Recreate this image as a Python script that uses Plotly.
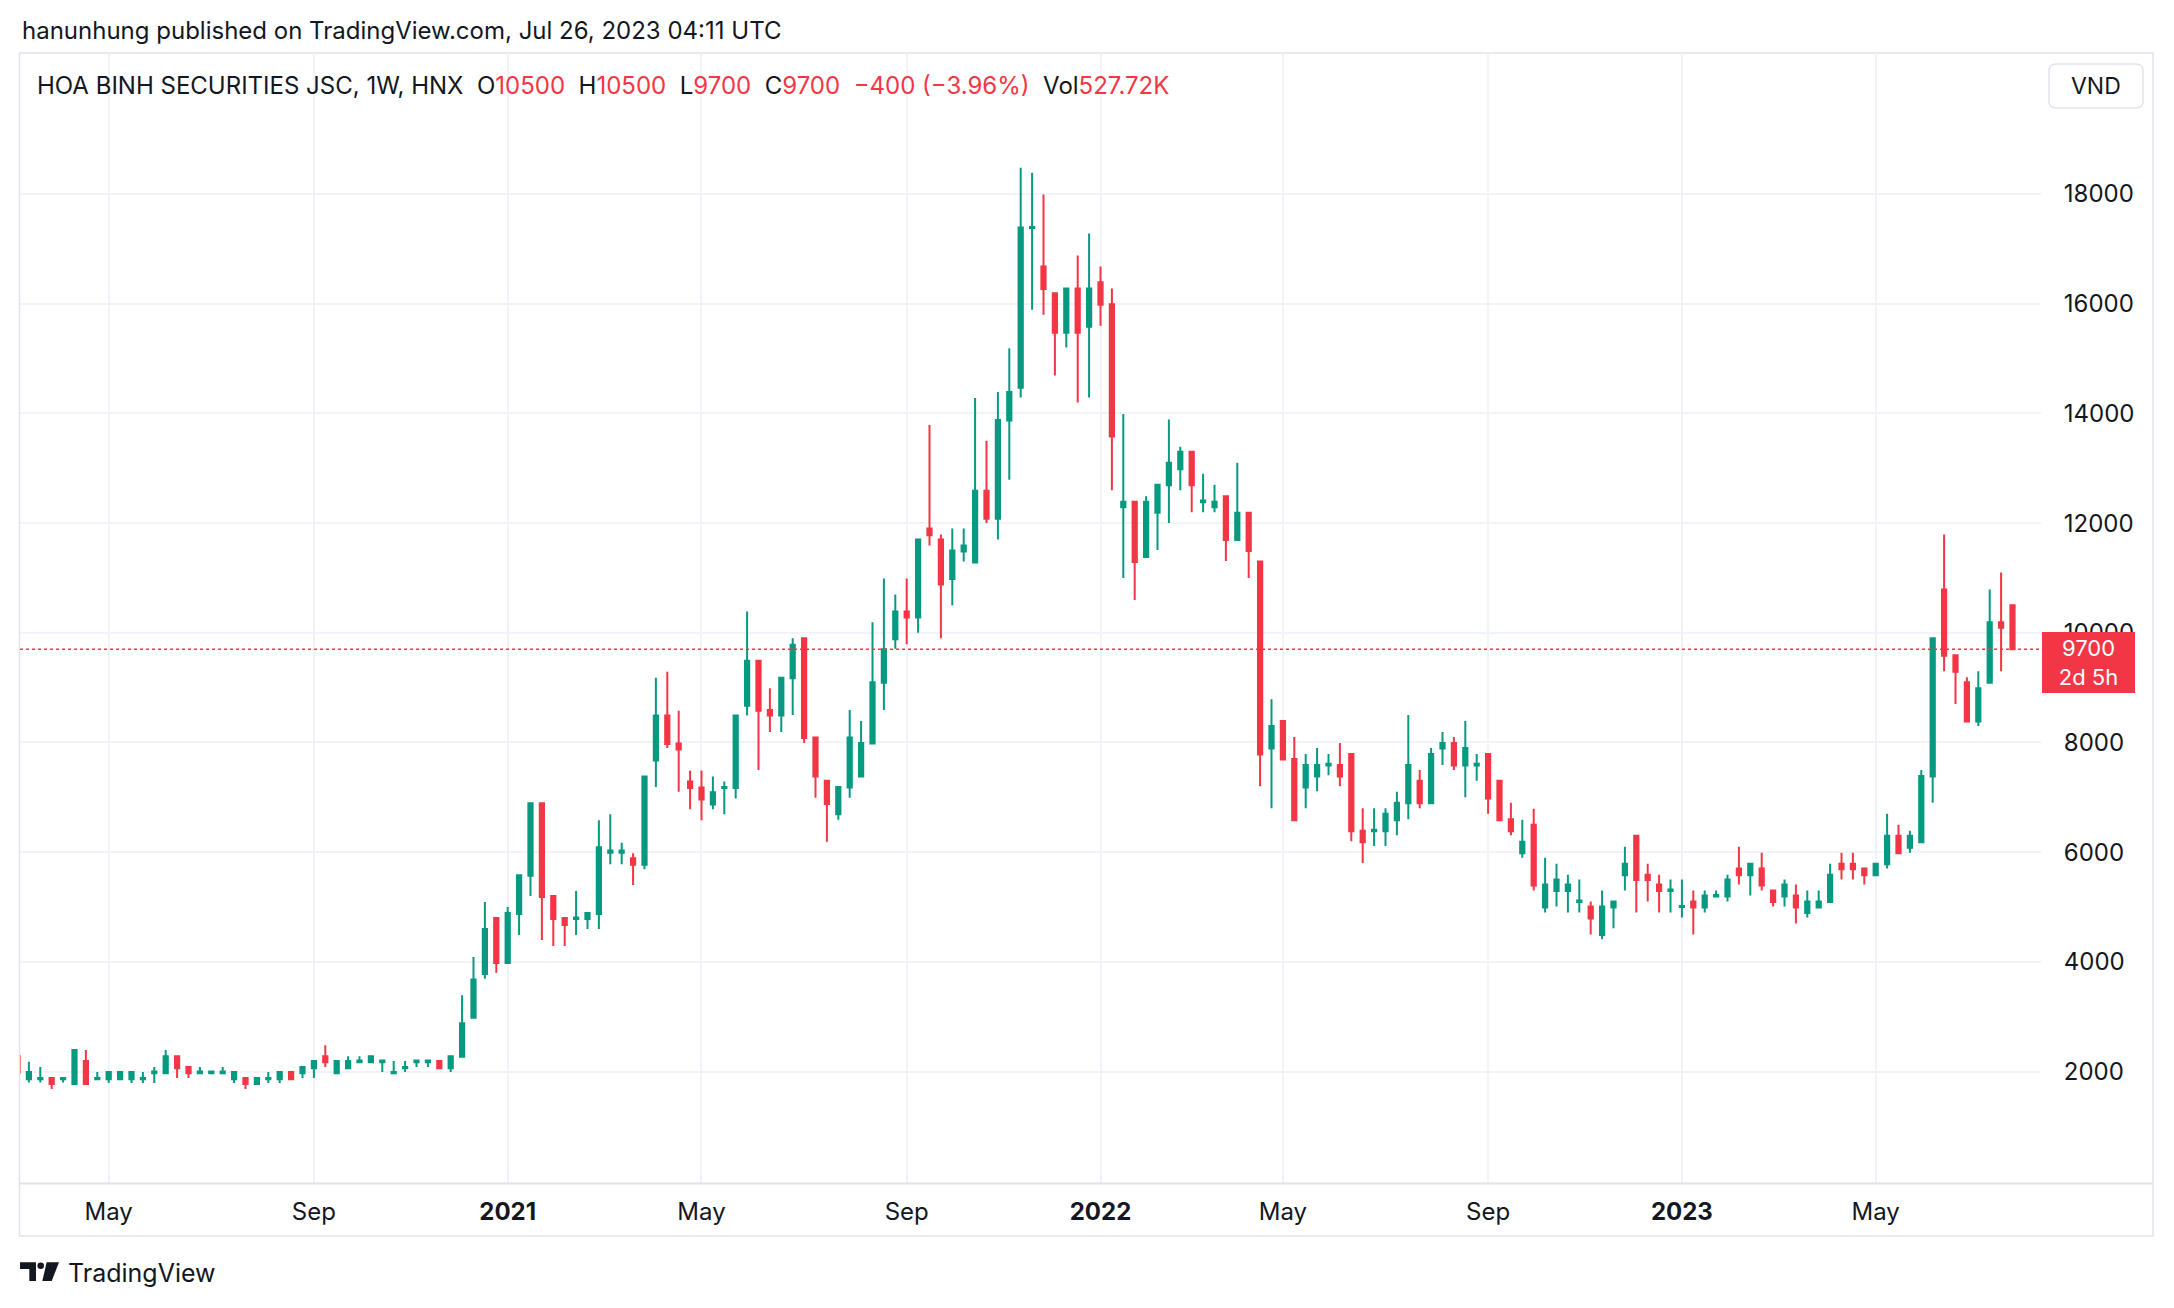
import pandas as pd
import plotly.graph_objects as go

# the page body has an 8px margin, so the figure starts 8px in from the window corner
OFF = 8
W_FIG, H_FIG = 2158, 1292
PL, PR, PT, PB = 20, 2041, 53, 1183   # plot area in window pixels

UP = "#089981"
DOWN = "#F23645"
TXT = "#131722"
GRID = "#F0F3FA"
FRAME = "#E0E3EB"
FONT = "Inter, Roboto, 'Noto Sans', sans-serif"

# weekly bars (Monday dates); the whole Tet week of 2022-01-31 had no trading, so no bar
week_dates = [d.strftime("%Y-%m-%d") for d in pd.date_range("2020-03-09", "2023-07-24", freq="7D")
              if d.strftime("%Y-%m-%d") != "2022-01-31"]

opens = [
    2280, 1860, 1860, 1880, 1860, 1770, 2190, 1860, 1860, 1860,
    1860, 1860, 1970, 1970, 2280, 2080, 1970, 1970, 1970, 1860,
    1880, 1770, 1860, 1860, 1990, 1970, 2060, 2280, 1970, 2060,
    2170, 2170, 2170, 1970, 2060, 2170, 2170, 2190, 2060, 2270,
    2980, 3780, 4800, 3980, 4870, 5570, 6890, 5200, 4800, 4780,
    4780, 4870, 5990, 5990, 5890, 5770, 7670, 8490, 7980, 7290,
    7180, 6870, 7170, 7170, 8670, 9490, 8590, 8490, 9170, 9900,
    8090, 7300, 6690, 7180, 7380, 7980, 9090, 9880, 10390, 10280,
    11900, 11700, 10980, 11480, 11280, 12590, 12080, 13870, 14470, 17380,
    16680, 16190, 15470, 16280, 15580, 16390, 15990, 12290, 12390, 11380,
    12190, 12690, 12980, 13300, 12380, 12290, 12490, 11690, 12190, 11300,
    7890, 8390, 7700, 7180, 7380, 7580, 7590, 7790, 6390, 6380,
    6380, 6580, 6890, 7300, 6890, 7890, 7990, 7580, 7580, 7790,
    7300, 6600, 5980, 6500, 4990, 5290, 5290, 5090, 5010, 4490,
    4990, 5580, 6300, 5590, 5410, 5290, 5000, 5100, 4990, 5190,
    5190, 5700, 5580, 5700, 5300, 5190, 5210, 4890, 4990, 5090,
    5790, 5790, 5700, 5580, 5780, 6300, 6080, 6180, 7380, 10790,
    9590, 9100, 8380, 9090, 10190, 10500,
]
highs = [
    2290, 2180, 2080, 1880, 1880, 2390, 2390, 1990, 1990, 1990,
    1990, 1990, 2080, 2390, 2280, 2080, 2080, 2000, 2080, 1990,
    1880, 1880, 1990, 1990, 1990, 2080, 2190, 2480, 2190, 2280,
    2280, 2280, 2200, 2190, 2190, 2200, 2200, 2190, 2280, 3390,
    4090, 5090, 4800, 5000, 5580, 6890, 6890, 5200, 4800, 5290,
    4890, 6580, 6690, 6170, 5980, 7380, 9180, 9290, 8580, 7490,
    7490, 7380, 7290, 8490, 10390, 9490, 8990, 9180, 9900, 9900,
    8090, 7300, 7190, 8590, 8390, 10190, 10990, 10700, 10990, 11700,
    13790, 11790, 11900, 11900, 14280, 13500, 14390, 15190, 18480, 18390,
    17990, 16190, 16280, 16880, 17280, 16680, 16280, 13990, 12390, 12490,
    12700, 13890, 13390, 13300, 12900, 12700, 12490, 13100, 12190, 11300,
    8790, 8390, 8100, 7790, 7900, 7790, 7990, 7790, 6800, 6800,
    6800, 7100, 8500, 7500, 7900, 8190, 8100, 8390, 7790, 7790,
    7300, 6900, 6590, 6790, 5900, 5790, 5590, 5500, 5100, 5300,
    5100, 6100, 6300, 5790, 5590, 5500, 5500, 5300, 5300, 5300,
    5590, 6100, 5790, 5990, 5300, 5500, 5410, 5300, 5300, 5790,
    5990, 5990, 5700, 5790, 6700, 6500, 6390, 7500, 9900, 11790,
    9590, 9190, 9300, 10790, 11100, 10500,
]
lows = [
    1970, 1800, 1800, 1680, 1800, 1770, 1770, 1850, 1790, 1860,
    1790, 1790, 1790, 1970, 1880, 1880, 1970, 1970, 1970, 1790,
    1680, 1770, 1790, 1790, 1860, 1880, 1880, 2080, 1970, 2060,
    2170, 2170, 1990, 1970, 1990, 2080, 2080, 2060, 1990, 2270,
    2980, 3690, 3800, 3980, 4490, 5200, 4400, 4290, 4290, 4490,
    4600, 4600, 5780, 5780, 5400, 5690, 7190, 7900, 7100, 6780,
    6580, 6780, 6690, 6980, 8490, 7500, 8190, 8190, 8500, 7990,
    6990, 6190, 6590, 6990, 7380, 7980, 8590, 9710, 9790, 10000,
    11590, 9900, 10500, 11300, 11280, 12000, 11700, 12790, 14290, 15890,
    15800, 14690, 15200, 14200, 14290, 15600, 12600, 11000, 10600, 11380,
    11510, 12000, 12600, 12200, 12200, 12200, 11310, 11690, 11000, 7200,
    6800, 7690, 6580, 6800, 7110, 7400, 7200, 6200, 5800, 6110,
    6110, 6310, 6600, 6800, 6890, 7590, 7500, 7000, 7300, 6700,
    6580, 6310, 5900, 5300, 4900, 5010, 4900, 4900, 4500, 4410,
    4610, 5300, 4900, 5100, 4900, 4900, 4810, 4500, 4900, 5180,
    5100, 5410, 5210, 5300, 5010, 5010, 4700, 4810, 4990, 5090,
    5500, 5500, 5410, 5580, 5700, 5980, 5990, 6180, 6900, 9300,
    8700, 8380, 8300, 9090, 9300, 9700,
]
closes = [
    1980, 1990, 1880, 1770, 1880, 2390, 1770, 1880, 1990, 1990,
    1990, 1880, 2000, 2280, 2060, 1970, 2000, 2000, 2000, 1990,
    1770, 1880, 1880, 1990, 1860, 2080, 2190, 2170, 2190, 2190,
    2200, 2280, 2200, 1990, 2080, 2200, 2200, 2060, 2280, 2880,
    3680, 4600, 3980, 4890, 5580, 6890, 5180, 4780, 4670, 4810,
    4890, 6090, 6030, 6030, 5770, 7380, 8490, 7970, 7870, 7170,
    6960, 7090, 7190, 8490, 9490, 8580, 8490, 9180, 9780, 8080,
    7380, 6880, 7190, 8090, 7990, 9100, 9700, 10390, 10280, 11700,
    11780, 10880, 11500, 11590, 12590, 12080, 13880, 14390, 17390, 17400,
    16270, 15470, 16280, 15470, 16280, 15980, 13580, 12390, 11290, 12390,
    12700, 13100, 13300, 12690, 12410, 12390, 11690, 12190, 11490, 7780,
    8300, 7690, 6580, 7590, 7590, 7610, 7380, 6380, 6180, 6410,
    6700, 6900, 7590, 6890, 7790, 7990, 7580, 7900, 7610, 6980,
    6580, 6380, 6190, 5390, 5410, 5500, 5410, 5120, 4790, 5010,
    5100, 5790, 5490, 5490, 5290, 5320, 5020, 4990, 5210, 5220,
    5500, 5580, 5790, 5390, 5090, 5410, 4990, 5100, 5100, 5590,
    5690, 5690, 5580, 5790, 6300, 5980, 6300, 7390, 9900, 9580,
    9290, 8380, 8990, 10190, 10090, 9700,
]

tick_dates = ["2020-05-04", "2020-09-07", "2021-01-04", "2021-05-03", "2021-09-06",
              "2022-01-03", "2022-05-02", "2022-09-05", "2023-01-02", "2023-05-01"]
tick_labels = ["May", "Sep", "<b>2021</b>", "May", "Sep", "<b>2022</b>", "May", "Sep",
               "<b>2023</b>", "May"]
price_ticks = [2000, 4000, 6000, 8000, 10000, 12000, 14000, 16000, 18000]
price_tick_labels = ["2000", "4000", "6000", "8000", "10000", "12000", "14000", "16000", "18000"]
last_price = 9700
countdown = "2d 5h"
title_text = "hanunhung published on TradingView.com, Jul 26, 2023 04:11 UTC"
symbol_text = "HOA BINH SECURITIES JSC, 1W, HNX"
legend_items = [("O", "10500"), ("H", "10500"), ("L", "9700"), ("C", "9700")]
change_text = "\u2212400 (\u22123.96%)"
volume_text = "527.72K"


def px(x):
    return (x - PL) / (PR - PL)


def py(y):
    return (PB - y) / (PB - PT)


fig = go.Figure()
fig.add_trace(go.Candlestick(
    x=week_dates, open=opens, high=highs, low=lows, close=closes,
    increasing=dict(line=dict(color=UP, width=2), fillcolor=UP),
    decreasing=dict(line=dict(color=DOWN, width=2), fillcolor=DOWN),
    whiskerwidth=0, hoverinfo="skip",
))

shapes = []
shapes.append(dict(type="rect", xref="paper", yref="paper", x0=px(19.5), x1=px(2153),
                   y0=py(1236), y1=py(53), line=dict(color=FRAME, width=1.5), layer="below"))
shapes.append(dict(type="line", xref="paper", yref="paper", x0=px(19.5), x1=px(2153),
                   y0=py(1183.5), y1=py(1183.5), line=dict(color=FRAME, width=2)))
shapes.append(dict(type="line", xref="paper", yref="y", x0=0, x1=1, y0=last_price, y1=last_price,
                   line=dict(color=DOWN, width=1.6, dash="dot")))


def rounded_rect(x0, y0, x1, y1, r):
    return (f"M {px(x0 + r)} {py(y0)} L {px(x1 - r)} {py(y0)} Q {px(x1)} {py(y0)} {px(x1)} {py(y0 + r)} "
            f"L {px(x1)} {py(y1 - r)} Q {px(x1)} {py(y1)} {px(x1 - r)} {py(y1)} "
            f"L {px(x0 + r)} {py(y1)} Q {px(x0)} {py(y1)} {px(x0)} {py(y1 - r)} "
            f"L {px(x0)} {py(y0 + r)} Q {px(x0)} {py(y0)} {px(x0 + r)} {py(y0)} Z")


shapes.append(dict(type="path", xref="paper", yref="paper", path=rounded_rect(2049, 64, 2143, 108, 7),
                   line=dict(color=FRAME, width=1.5), fillcolor="white"))


def poly(pts):
    return "M " + " L ".join(f"{px(a)} {py(b)}" for a, b in pts) + " Z"


shapes.append(dict(type="path", xref="paper", yref="paper",
                   path=poly([(20, 1262.3), (36, 1262.3), (36, 1281), (29.3, 1281), (29.3, 1269), (20, 1269)]),
                   fillcolor=TXT, line=dict(width=0)))
shapes.append(dict(type="circle", xref="paper", yref="paper", x0=px(37.4), x1=px(44), y0=py(1269), y1=py(1262.4),
                   fillcolor=TXT, line=dict(width=0)))
shapes.append(dict(type="path", xref="paper", yref="paper",
                   path=poly([(46.7, 1262.3), (59, 1262.3), (51.7, 1281), (42.3, 1281)]),
                   fillcolor=TXT, line=dict(width=0)))

annotations = []
annotations.append(dict(xref="paper", yref="paper", x=px(20), y=py(30), xanchor="left", yanchor="middle",
                        text=title_text, showarrow=False, font=dict(family=FONT, size=24, color=TXT)))

sp = "\u00a0\u00a0"
leg = f'<span style="color:{TXT}">{symbol_text}</span>'
for lab, val in legend_items:
    leg += f'{sp}<span style="color:{TXT}">{lab}</span><span style="color:{DOWN}">{val}</span>'
leg += f'{sp}<span style="color:{DOWN}">{change_text}</span>'
leg += f'{sp}<span style="color:{TXT}">Vol</span><span style="color:{DOWN}">{volume_text}</span>'
annotations.append(dict(xref="paper", yref="paper", x=px(35), y=py(86), xanchor="left", yanchor="middle",
                        text=leg, showarrow=False, font=dict(family=FONT, size=24, color=TXT)))
annotations.append(dict(xref="paper", yref="paper", x=px(2096), y=py(86), xanchor="center", yanchor="middle",
                        text="VND", showarrow=False, font=dict(family=FONT, size=23, color=TXT)))
annotations.append(dict(xref="paper", yref="y", x=px(2042), y=last_price, xanchor="left", yanchor="top",
                        yshift=17, text=f"{last_price}<br>{countdown}", showarrow=False, align="center",
                        width=93, height=61, bgcolor=DOWN, borderpad=0, borderwidth=0,
                        font=dict(family=FONT, size=22, color="white")))
annotations.append(dict(xref="paper", yref="paper", x=px(66), y=py(1273), xanchor="left", yanchor="middle",
                        text="TradingView", showarrow=False, font=dict(family=FONT, size=25, color=TXT)))

fig.update_layout(
    width=W_FIG, height=H_FIG,
    margin=dict(l=PL - OFF, r=(W_FIG + OFF) - PR, t=PT - OFF, b=(H_FIG + OFF) - PB, pad=0),
    paper_bgcolor="white", plot_bgcolor="white",
    showlegend=False, boxgap=0.47,
    font=dict(family=FONT, color=TXT),
    shapes=shapes, annotations=annotations,
    xaxis=dict(type="category", range=[0.22, 177.5], rangeslider=dict(visible=False),
               tickmode="array", tickvals=tick_dates, ticktext=tick_labels,
               showgrid=True, gridcolor=GRID, gridwidth=1.5, zeroline=False, showline=False,
               ticks="outside", ticklen=7, tickcolor="rgba(0,0,0,0)",
               tickfont=dict(family=FONT, size=24, color=TXT), fixedrange=True),
    yaxis=dict(side="right", range=[-33, 20572], tickmode="array", tickvals=price_ticks,
               ticktext=price_tick_labels,
               showgrid=True, gridcolor=GRID, gridwidth=1.5, zeroline=False, showline=False,
               ticks="outside", ticklen=17, tickcolor="rgba(0,0,0,0)",
               tickfont=dict(family=FONT, size=24, color=TXT), fixedrange=True),
)

fig.write_html("out.html")
